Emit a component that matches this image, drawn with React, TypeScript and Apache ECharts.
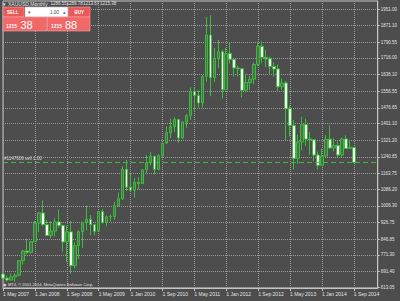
import { useEffect, useRef } from 'react';
import * as echarts from 'echarts';

// ---- header / panel texts ----
const symbolName = 'XAUUSD,Monthly';
const headerPrices = ['1286.55', '1289.78', '1213.67', '1215.38'];
const sellLabel = 'SELL';
const buyLabel = 'BUY';
const lotSize = '1.00';
const sellPrice = ['1215', '38'];
const buyPrice = ['1215', '88'];
const copyrightText = 'MT4, © 2001-2014, MetaQuotes Software Corp.';

// ---- order line ----
const orderPrice = 1215.38;
const orderLabel = '#1147606 sell 1.00';
const bidLabel = '1215.38';

// ---- axes ----
const monthNames = ['Jan', 'Feb', 'Mar', 'Apr', 'May', 'Jun', 'Jul', 'Aug', 'Sep', 'Oct', 'Nov', 'Dec'];
const startYear = 2007;
const startMonth = 4; // May
const categoryCount = 95; // May 2007 .. Mar 2015 (empty space to the right)
const priceTicks = [
  1951.0, 1871.1, 1790.55, 1716.0, 1636.1, 1556.55, 1476.65, 1401.1, 1321.2,
  1240.65, 1163.75, 1086.2, 1006.3, 926.75, 846.85, 771.3, 691.4, 613.05,
];

// ---- monthly OHLC, May 2007 .. Sep 2014 ----
const opens = [
  679, 659, 650, 665, 673, 743, 789, 783,
  834, 923, 972, 916, 864, 885, 929, 912, 833, 881, 719, 815,
  882, 928, 942, 916, 884, 979, 927, 954, 955, 1008, 1040, 1182,
  1096, 1081, 1118, 1113, 1179, 1213, 1244, 1181, 1247, 1307, 1358, 1386,
  1421, 1332, 1409, 1439, 1556, 1536, 1500, 1628, 1826, 1622, 1714, 1746,
  1564, 1737, 1710, 1668, 1664, 1561, 1598, 1614, 1685, 1772, 1719, 1712,
  1675, 1663, 1578, 1596, 1472, 1392, 1234, 1313, 1396, 1327, 1323, 1250,
  1201, 1245, 1326, 1284, 1296, 1250, 1327, 1282, 1286.55,
];
const highs = [
  692, 671, 681, 683, 745, 795, 848, 838,
  934, 975, 1032, 939, 932, 946, 989, 916, 912, 934, 831, 888,
  928, 1007, 962, 917, 981, 990, 960, 964, 1025, 1070, 1195, 1227,
  1162, 1141, 1143, 1180, 1249, 1265, 1245, 1254, 1308, 1388, 1424, 1431,
  1424, 1411, 1447, 1575, 1577, 1561, 1632, 1913, 1921, 1764, 1803, 1755,
  1764, 1791, 1716, 1678, 1668, 1640, 1631, 1693, 1788, 1796, 1755, 1723,
  1694, 1685, 1617, 1606, 1488, 1418, 1348, 1434, 1424, 1361, 1323, 1267,
  1280, 1345, 1392, 1331, 1315, 1333, 1345, 1324, 1289.78,
];
const lows = [
  651, 642, 648, 642, 667, 724, 774, 777,
  834, 880, 908, 862, 851, 860, 902, 786, 736, 681, 705, 751,
  805, 888, 865, 865, 883, 920, 908, 931, 938, 1003, 1035, 1076,
  1074, 1045, 1087, 1111, 1163, 1200, 1157, 1176, 1241, 1310, 1331, 1360,
  1309, 1327, 1381, 1418, 1462, 1478, 1478, 1603, 1532, 1600, 1667, 1522,
  1563, 1689, 1627, 1627, 1527, 1550, 1564, 1590, 1678, 1692, 1672, 1635,
  1626, 1555, 1563, 1321, 1338, 1180, 1208, 1272, 1292, 1251, 1221, 1182,
  1200, 1240, 1278, 1268, 1240, 1240, 1280, 1281, 1213.67,
];
const closes = [
  659, 650, 665, 673, 743, 789, 783, 834,
  923, 972, 916, 864, 885, 929, 912, 833, 881, 719, 815, 882,
  928, 942, 916, 884, 979, 927, 954, 955, 1008, 1040, 1182, 1096,
  1081, 1118, 1113, 1179, 1213, 1244, 1181, 1247, 1307, 1358, 1386, 1421,
  1332, 1409, 1439, 1556, 1536, 1500, 1628, 1826, 1622, 1714, 1746, 1564,
  1737, 1710, 1668, 1664, 1561, 1598, 1614, 1685, 1772, 1719, 1712, 1675,
  1663, 1578, 1596, 1472, 1392, 1234, 1313, 1396, 1327, 1323, 1250, 1201,
  1245, 1326, 1284, 1296, 1250, 1327, 1282, 1287, 1215.38,
];

const BG = '#4d4d4d';
const GRID = '#9a9a9a';
const BORDER = '#c4c4c4';
const TEXT = '#e2e2e2';
const GREEN = '#3cbc3c';
const RED = '#e85a5a';
const RED2 = '#f06868';
const FONT = "'Liberation Sans', Arial, sans-serif";

export default function App() {
  const ref = useRef<HTMLDivElement>(null);

  useEffect(() => {
    if (!ref.current) return;
    const chart = echarts.init(ref.current, undefined, { renderer: 'svg' });

    const categories: string[] = [];
    for (let i = 0; i < categoryCount; i++) {
      const m = (startMonth + i) % 12;
      const y = startYear + Math.floor((startMonth + i) / 12);
      categories.push(`1 ${monthNames[m]} ${y}`);
    }
    const candles = opens.map((o, i) => [o, closes[i], lows[i], highs[i]]);

    const txt = (x: number, y: number, text: string, size: number, fill: string, extra: any = {}) => ({
      type: 'text',
      x,
      y,
      silent: true,
      z: 100,
      style: {
        text,
        fill,
        fontSize: size,
        fontFamily: FONT,
        textVerticalAlign: 'middle',
        ...extra,
      },
    });
    const rect = (x: number, y: number, w: number, h: number, fill: string, stroke: string) => ({
      type: 'rect',
      z: 90,
      silent: true,
      shape: { x, y, width: w, height: h },
      style: { fill, stroke, lineWidth: 0.6 },
    });

    chart.setOption({
      animation: false,
      backgroundColor: BG,
      grid: {
        left: 1,
        right: 20.5,
        top: 1,
        bottom: 13,
        show: true,
        borderColor: BORDER,
        borderWidth: 1,
        backgroundColor: BG,
      },
      xAxis: {
        type: 'category',
        data: categories,
        boundaryGap: false,
        axisLine: { show: true, lineStyle: { color: BORDER } },
        axisTick: { show: true, interval: 7, length: 3, lineStyle: { color: BORDER } },
        axisLabel: {
          interval: 7,
          align: 'left',
          margin: 3.5,
          color: TEXT,
          fontSize: 5,
          fontFamily: FONT,
        },
        splitLine: {
          show: true,
          interval: 7,
          lineStyle: { color: GRID, type: [1, 1], width: 1 },
        },
      },
      yAxis: {
        type: 'value',
        position: 'right',
        min: 611.8,
        max: 1989.4,
        axisLine: { show: true, lineStyle: { color: BORDER } },
        axisTick: { show: true, length: 2, customValues: priceTicks, lineStyle: { color: BORDER } },
        axisLabel: {
          customValues: priceTicks,
          formatter: (v: number) => Number(v).toFixed(2),
          color: TEXT,
          fontSize: 4.5,
          fontFamily: FONT,
          margin: 3,
        },
        splitLine: {
          show: true,
          lineStyle: { color: GRID, type: [1, 1], width: 1 },
        },
      },
      series: [
        {
          type: 'candlestick',
          data: candles,
          barWidth: 3,
          clip: false,
          itemStyle: {
            color: '#4f704f',
            color0: '#ffffff',
            borderColor: GREEN,
            borderColor0: GREEN,
            borderWidth: 1,
          },
          markLine: {
            symbol: ['none', 'none'],
            silent: true,
            animation: false,
            data: [
              {
                yAxis: orderPrice,
                lineStyle: { color: GREEN, type: [5, 3], width: 1 },
                label: {
                  show: true,
                  position: 'insideStartTop',
                  formatter: orderLabel,
                  color: '#d6d6d6',
                  fontSize: 4.5,
                  fontFamily: FONT,
                  distance: 1,
                },
              },
              {
                yAxis: orderPrice,
                lineStyle: { opacity: 0 },
                label: {
                  show: true,
                  position: 'end',
                  formatter: bidLabel,
                  backgroundColor: '#f2f2f2',
                  color: '#333333',
                  fontSize: 4.5,
                  fontFamily: FONT,
                  padding: [1, 1.5],
                  distance: 0.5,
                },
              },
            ],
          },
        },
      ],
      graphic: [
        txt(3, 3.5, '▾', 5, TEXT),
        txt(8, 3.5, symbolName, 5, TEXT),
        txt(50.5, 3.5, headerPrices[0], 4.5, TEXT),
        txt(66.5, 3.5, headerPrices[1], 4.5, TEXT),
        txt(83, 3.5, headerPrices[2], 4.5, TEXT),
        txt(100, 3.5, headerPrices[3], 4.5, TEXT),
        rect(3, 7, 21, 10, RED, '#f7a4a4'),
        rect(25, 7, 43, 10, '#ffffff', '#bdbdbd'),
        rect(68, 7, 22, 10, RED, '#f7a4a4'),
        rect(3, 17, 44, 14, RED2, '#f7a4a4'),
        rect(47.5, 17, 42.5, 14, RED2, '#f7a4a4'),
        txt(7, 12, sellLabel, 4.5, '#ffffff', { fontWeight: 'bold' }),
        txt(28, 12, '▾', 5, '#666666'),
        txt(50, 12, lotSize, 4.5, '#444444'),
        txt(62.5, 12, '▴', 5, '#666666'),
        txt(74.5, 12, buyLabel, 4.5, '#ffffff', { fontWeight: 'bold' }),
        txt(6, 25.5, sellPrice[0], 5, '#ffffff', { fontWeight: 'bold' }),
        txt(20.5, 24.5, sellPrice[1], 11, '#ffffff'),
        txt(51, 25.5, buyPrice[0], 5, '#ffffff', { fontWeight: 'bold' }),
        txt(65, 24.5, buyPrice[1], 11, '#ffffff'),
        txt(3, 284.5, '◉', 4, TEXT),
        txt(8, 284.5, copyrightText, 4, TEXT),
      ],
    });

    return () => chart.dispose();
  }, []);

  return (
    <div
      ref={ref}
      style={{ position: 'fixed', left: 0, top: 0, width: 400, height: 301, background: BG }}
    />
  );
}
